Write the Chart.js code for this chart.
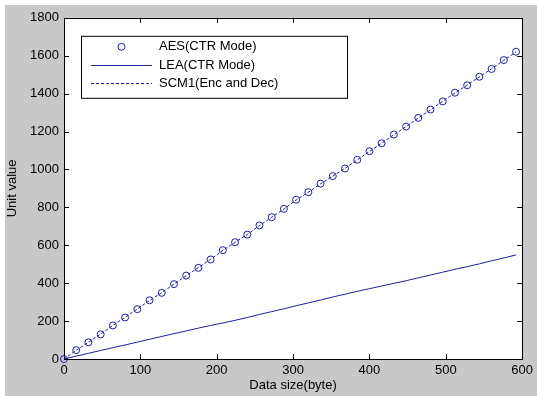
<!DOCTYPE html>
<html>
<head>
<meta charset="utf-8">
<script src="https://cdn.jsdelivr.net/npm/chart.js@4/dist/chart.umd.min.js"></script>
<style>
  html, body { margin: 0; padding: 0; background: #ffffff; }
  #wrap { position: absolute; left: 5px; top: 5px; width: 532px; height: 391px; background: #c8c8c8; }
  canvas { display: block; }
</style>
</head>
<body>
<div id="wrap"><canvas id="chart" width="532" height="391"></canvas></div>
<script>
// data sizes in bytes
const sizes = [0, 16, 32, 48, 64, 80, 96, 112, 128, 144, 160, 176, 192, 208, 224, 240, 256, 272, 288,
               304, 320, 336, 352, 368, 384, 400, 416, 432, 448, 464, 480, 496, 512, 528, 544, 560, 576, 592];

const aesCtr = [0, 47, 88, 130, 177, 219, 263, 310, 349, 395, 440, 481, 525, 574, 616, 656, 705, 748, 792,
                840, 880, 925, 965, 1005, 1051, 1096, 1138, 1184, 1226, 1272, 1316, 1359, 1405, 1444, 1489, 1530, 1577, 1621];

const leaCtr = [0, 15, 30, 45, 60, 74, 89, 104, 119, 134, 148, 163, 177, 190, 204, 219, 235, 250, 265,
                281, 296, 311, 327, 342, 357, 371, 385, 399, 413, 428, 443, 458, 473, 487, 502, 518, 533, 549];

const scm1 = [0, 46, 89, 131, 177, 220, 264, 309, 350, 395, 439, 482, 526, 573, 615, 657, 704, 748, 791,
              839, 880, 924, 965, 1006, 1050, 1095, 1139, 1183, 1226, 1271, 1315, 1360, 1404, 1445, 1488, 1531, 1576, 1620];

const xTicks = [0, 100, 200, 300, 400, 500, 600];
const yTicks = [0, 200, 400, 600, 800, 1000, 1200, 1400, 1600, 1800];

const seriesNames = ['AES(CTR Mode)', 'LEA(CTR Mode)', 'SCM1(Enc and Dec)'];

const blue = '#1e1ea0';
const fontName = "'Liberation Sans', Arial, sans-serif";

function toPoints(values) {
    return sizes.map((s, i) => ({ x: s, y: values[i] }));
}

// white plot area, box frame and inward tick marks like the original figure
const framePlugin = {
    id: 'frame',
    beforeDatasetsDraw(chart) {
        const a = chart.chartArea;
        const ctx = chart.ctx;
        ctx.save();
        ctx.fillStyle = '#ffffff';
        ctx.fillRect(a.left, a.top, a.right - a.left, a.bottom - a.top);
        ctx.restore();
    },
    afterDatasetsDraw(chart) {
        const a = chart.chartArea;
        const ctx = chart.ctx;
        const xs = chart.scales.x;
        const ys = chart.scales.y;
        const len = 5;
        ctx.save();
        ctx.strokeStyle = '#000000';
        ctx.lineWidth = 1;
        ctx.beginPath();
        xTicks.forEach(v => {
            const px = Math.round(xs.getPixelForValue(v)) + 0.5;
            ctx.moveTo(px, a.bottom);
            ctx.lineTo(px, a.bottom - len);
            ctx.moveTo(px, a.top);
            ctx.lineTo(px, a.top + len);
        });
        yTicks.forEach(v => {
            const py = Math.round(ys.getPixelForValue(v)) + 0.5;
            ctx.moveTo(a.left, py);
            ctx.lineTo(a.left + len, py);
            ctx.moveTo(a.right, py);
            ctx.lineTo(a.right - len, py);
        });
        ctx.stroke();
        ctx.strokeRect(Math.round(a.left) + 0.5, Math.round(a.top) + 0.5,
                       Math.round(a.right - a.left), Math.round(a.bottom - a.top));
        ctx.restore();
    }
};

// boxed legend inside the upper left of the plot
const boxLegendPlugin = {
    id: 'boxLegend',
    afterDraw(chart) {
        const a = chart.chartArea;
        const ctx = chart.ctx;
        const left = a.left + 17;
        const top = a.top + 18;
        const w = 266;
        const h = 62;
        const rows = [top + 11, top + 29.5, top + 47.5];
        const lineX0 = left + 10;
        const lineX1 = left + 71;
        const textX = left + 78;

        ctx.save();
        ctx.fillStyle = '#ffffff';
        ctx.fillRect(left, top, w, h);
        ctx.strokeStyle = '#000000';
        ctx.lineWidth = 1;
        ctx.strokeRect(left + 0.5, top + 0.5, w, h);

        chart.data.datasets.forEach((ds, i) => {
            const y = rows[i];
            ctx.strokeStyle = ds.borderColor;
            ctx.lineWidth = 1;
            if (ds.showLine === false) {
                ctx.beginPath();
                ctx.arc((lineX0 + lineX1) / 2, y, ds.pointRadius, 0, Math.PI * 2);
                ctx.stroke();
            } else {
                ctx.setLineDash(ds.borderDash || []);
                ctx.beginPath();
                ctx.moveTo(lineX0, Math.round(y) + 0.5);
                ctx.lineTo(lineX1, Math.round(y) + 0.5);
                ctx.stroke();
                ctx.setLineDash([]);
            }
            ctx.fillStyle = '#000000';
            ctx.font = '13px ' + fontName;
            ctx.textAlign = 'left';
            ctx.textBaseline = 'middle';
            ctx.fillText(ds.label, textX, y);
        });
        ctx.restore();
    }
};

const ctx = document.getElementById('chart').getContext('2d');

new Chart(ctx, {
    type: 'line',
    data: {
        datasets: [
            {
                label: seriesNames[0],
                data: toPoints(aesCtr),
                showLine: false,
                borderColor: blue,
                backgroundColor: 'rgba(0,0,0,0)',
                pointStyle: 'circle',
                pointRadius: 3.5,
                pointBorderWidth: 1,
                pointBorderColor: blue,
                pointBackgroundColor: 'rgba(0,0,0,0)',
                clip: false,
                order: 0
            },
            {
                label: seriesNames[1],
                data: toPoints(leaCtr),
                borderColor: blue,
                borderWidth: 1,
                pointRadius: 0,
                tension: 0,
                fill: false,
                order: 2
            },
            {
                label: seriesNames[2],
                data: toPoints(scm1),
                borderColor: blue,
                borderWidth: 1,
                borderDash: [3, 2],
                pointRadius: 0,
                tension: 0,
                fill: false,
                order: 1
            }
        ]
    },
    options: {
        responsive: false,
        animation: false,
        devicePixelRatio: 1,
        layout: {
            padding: { top: 12, right: 14, left: 0, bottom: 0 }
        },
        plugins: {
            legend: { display: false },
            tooltip: { enabled: false }
        },
        scales: {
            x: {
                type: 'linear',
                min: 0,
                max: 600,
                afterBuildTicks(scale) {
                    scale.ticks = xTicks.map(v => ({ value: v }));
                },
                afterFit(scale) { scale.height = 37; },
                grid: { display: false, drawTicks: false },
                border: { display: false },
                ticks: {
                    color: '#000000',
                    padding: 4,
                    maxRotation: 0,
                    callback: v => String(v),
                    font: { family: fontName, size: 13 }
                },
                title: {
                    display: true,
                    text: 'Data size(byte)',
                    color: '#000000',
                    padding: { top: 0, bottom: 3 },
                    font: { family: fontName, size: 13 }
                }
            },
            y: {
                type: 'linear',
                min: 0,
                max: 1800,
                afterBuildTicks(scale) {
                    scale.ticks = yTicks.map(v => ({ value: v }));
                },
                afterFit(scale) { scale.width = 59; },
                grid: { display: false, drawTicks: false },
                border: { display: false },
                ticks: {
                    color: '#000000',
                    padding: 5,
                    callback: v => String(v),
                    font: { family: fontName, size: 13 }
                },
                title: {
                    display: true,
                    text: 'Unit value',
                    color: '#000000',
                    padding: { top: 0, bottom: 0 },
                    font: { family: fontName, size: 13 }
                }
            }
        }
    },
    plugins: [framePlugin, boxLegendPlugin]
});
</script>
</body>
</html>
